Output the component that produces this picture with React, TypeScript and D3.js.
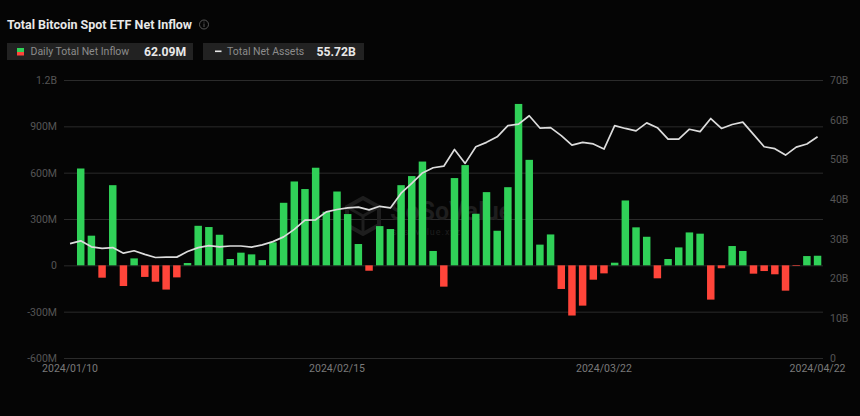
import React, { useEffect, useRef } from "react";
import { select, scaleBand, scaleLinear, axisLeft, axisRight, axisBottom, line } from "d3";

const dates = [
  "2024/01/10", "2024/01/11", "2024/01/12", "2024/01/16", "2024/01/17", "2024/01/18", "2024/01/19", "2024/01/22",
  "2024/01/23", "2024/01/24", "2024/01/25", "2024/01/26", "2024/01/29", "2024/01/30", "2024/01/31", "2024/02/01",
  "2024/02/02", "2024/02/05", "2024/02/06", "2024/02/07", "2024/02/08", "2024/02/09", "2024/02/12", "2024/02/13",
  "2024/02/14", "2024/02/15", "2024/02/16", "2024/02/20", "2024/02/21", "2024/02/22", "2024/02/23", "2024/02/26",
  "2024/02/27", "2024/02/28", "2024/02/29", "2024/03/01", "2024/03/04", "2024/03/05", "2024/03/06", "2024/03/07",
  "2024/03/08", "2024/03/11", "2024/03/12", "2024/03/13", "2024/03/14", "2024/03/15", "2024/03/18", "2024/03/19",
  "2024/03/20", "2024/03/21", "2024/03/22", "2024/03/25", "2024/03/26", "2024/03/27", "2024/03/28", "2024/04/01",
  "2024/04/02", "2024/04/03", "2024/04/04", "2024/04/05", "2024/04/08", "2024/04/09", "2024/04/10", "2024/04/11",
  "2024/04/12", "2024/04/15", "2024/04/16", "2024/04/17", "2024/04/18", "2024/04/19", "2024/04/22",
];

// millions of USD
const netInflow = [
  0, 627, 192, -80, 519, -134, 45, -75, -106, -157, -78, 15, 256, 248, 198, 41, 82, 71, 34, 149, 405, 543, 494,
  632, 347, 478, 332, 138, -35, 254, 235, 519, 578, 672, 93, -138, 565, 649, 334, 474, 224, 506, 1045, 683, 134,
  200, -153, -325, -261, -93, -52, 17, 420, 246, 185, -84, 41, 116, 213, 205, -222, -19, 125, 93, -54, -37, -58,
  -164, -4, 60, 62.09,
];

// billions of USD
const netAssets = [
  28.8, 29.5, 28.0, 27.6, 27.8, 26.4, 27.0, 26.1, 25.3, 25.4, 25.4, 26.8, 27.8, 28.3, 28.0, 28.2, 28.2, 27.9, 28.5,
  29.3, 30.5, 32.4, 34.7, 34.8, 36.8, 37.4, 37.8, 38.0, 37.3, 38.2, 37.8, 41.5, 44.0, 46.6, 47.9, 48.3, 52.5, 49.0,
  53.2, 54.3, 55.7, 58.5, 58.9, 61.0, 57.9, 58.0, 56.0, 53.6, 54.3, 53.9, 52.6, 58.5, 57.8, 57.2, 59.2, 58.0, 55.1,
  55.1, 57.6, 57.0, 60.3, 57.8, 58.8, 59.4, 56.3, 53.2, 52.7, 51.1, 53.1, 53.9, 55.72,
];

const leftTicks = [-600, -300, 0, 300, 600, 900, 1200];
const leftLabels = ["-600M", "-300M", "0", "300M", "600M", "900M", "1.2B"];
const rightTicks = [0, 10, 20, 30, 40, 50, 60, 70];
const rightLabels = ["0", "10B", "20B", "30B", "40B", "50B", "60B", "70B"];
const dateTicks = ["2024/01/10", "2024/02/15", "2024/03/22", "2024/04/22"];

const width = 860;
const height = 416;
const fontFamily = "Roboto, 'Noto Sans', sans-serif";
const green = "#30d158";
const red = "#ff453a";
const gridColor = "#2b2b2b";
const labelColor = "#555555";

export default function App() {
  const svgRef = useRef<SVGSVGElement | null>(null);

  useEffect(() => {
    document.body.style.margin = "0";
    document.body.style.background = "#050505";

    const svg = select(svgRef.current);
    svg.selectAll("*").remove();
    svg.attr("font-family", fontFamily);

    const xScale = scaleBand<string>().domain(dates).range([64.7, 822.9]).paddingInner(0.3).paddingOuter(0.15);
    const xCenter = (d: string) => (xScale(d) as number) + xScale.bandwidth() / 2;
    const yLeft = scaleLinear().domain([-600, 1200]).range([358, 80]);
    const yRight = scaleLinear().domain([0, 70]).range([358, 80]);

    // title and legend
    svg.append("text").attr("x", 7).attr("y", 29).attr("font-size", 12.5).attr("font-weight", 700)
      .attr("fill", "#e8e8e8").text("Total Bitcoin Spot ETF Net Inflow");
    svg.append("circle").attr("cx", 204).attr("cy", 24.5).attr("r", 4.5)
      .attr("fill", "none").attr("stroke", "#6a6a6a").attr("stroke-width", 0.8);
    svg.append("line").attr("x1", 204).attr("x2", 204).attr("y1", 23.5).attr("y2", 27)
      .attr("stroke", "#6a6a6a").attr("stroke-width", 0.8);
    svg.append("circle").attr("cx", 204).attr("cy", 22).attr("r", 0.5).attr("fill", "#6a6a6a");

    svg.append("rect").attr("x", 7).attr("y", 43).attr("width", 186).attr("height", 17).attr("fill", "#222222");
    svg.append("rect").attr("x", 17).attr("y", 48).attr("width", 7).attr("height", 4).attr("fill", green);
    svg.append("rect").attr("x", 17).attr("y", 52).attr("width", 7).attr("height", 3.5).attr("fill", red);
    svg.append("text").attr("x", 30.5).attr("y", 55).attr("font-size", 10.5).attr("fill", "#8c8c8c")
      .text("Daily Total Net Inflow");
    svg.append("text").attr("x", 144).attr("y", 56).attr("font-size", 12.2).attr("font-weight", 700)
      .attr("fill", "#e8e8e8").text("62.09M");

    svg.append("rect").attr("x", 203).attr("y", 43).attr("width", 161).attr("height", 17).attr("fill", "#222222");
    svg.append("rect").attr("x", 215).attr("y", 50.5).attr("width", 6.5).attr("height", 1.6).attr("fill", "#e8e8e8");
    svg.append("text").attr("x", 227).attr("y", 55).attr("font-size", 10.5).attr("fill", "#8c8c8c")
      .text("Total Net Assets");
    svg.append("text").attr("x", 316.5).attr("y", 56).attr("font-size", 12.2).attr("font-weight", 700)
      .attr("fill", "#e8e8e8").text("55.72B");

    // left axis carries the grid lines
    const leftAxis = axisLeft(yLeft)
      .tickValues(leftTicks)
      .tickSize(-759)
      .tickPadding(7)
      .tickFormat((_, i) => leftLabels[i]);
    const gLeft = svg.append("g").attr("transform", "translate(64,0)").call(leftAxis);
    gLeft.select(".domain").remove();
    gLeft.selectAll("line").attr("stroke", gridColor);
    gLeft.selectAll("text").attr("fill", labelColor).attr("font-size", 10.5).attr("font-family", fontFamily);

    const rightAxis = axisRight(yRight)
      .tickValues(rightTicks)
      .tickSize(0)
      .tickPadding(7)
      .tickFormat((_, i) => rightLabels[i]);
    const gRight = svg.append("g").attr("transform", "translate(823,0)").call(rightAxis);
    gRight.select(".domain").remove();
    gRight.selectAll("text").attr("fill", labelColor).attr("font-size", 10.5).attr("font-family", fontFamily);

    const bottomAxis = axisBottom(xScale).tickValues(dateTicks).tickSize(0).tickPadding(7);
    const gBottom = svg.append("g").attr("transform", "translate(0,358)").call(bottomAxis);
    gBottom.select(".domain").remove();
    gBottom.selectAll("text").attr("fill", "#7a7a7a").attr("font-size", 10.5).attr("font-family", fontFamily);

    // watermark
    const mark = svg.append("g").attr("fill", "#1e1e1e");
    mark.append("path").attr("d", "M363 198 L379 207 L379 225 L363 234 L347 225 L347 207 Z")
      .attr("fill", "none").attr("stroke", "#1e1e1e").attr("stroke-width", 4);
    mark.append("path").attr("d", "M347 207 L363 216 L379 207 M363 216 L363 234")
      .attr("fill", "none").attr("stroke", "#1e1e1e").attr("stroke-width", 3);
    mark.append("text").attr("x", 390).attr("y", 220).attr("font-size", 25).attr("font-weight", 700).text("SoSoValue");
    mark.append("text").attr("x", 392).attr("y", 235).attr("font-size", 9).attr("letter-spacing", 1).text("sosovalue.xyz");

    // bars
    svg.append("g")
      .selectAll("rect")
      .data(netInflow)
      .join("rect")
      .attr("x", (_, i) => xScale(dates[i]) as number)
      .attr("width", xScale.bandwidth())
      .attr("y", (d) => yLeft(Math.max(d, 0)))
      .attr("height", (d) => Math.abs(yLeft(d) - yLeft(0)))
      .attr("fill", (d) => (d >= 0 ? green : red));

    // assets line
    const getLine = line<number>()
      .x((_, i) => xCenter(dates[i]))
      .y((d) => yRight(d));
    svg.append("path")
      .attr("d", getLine(netAssets))
      .attr("fill", "none")
      .attr("stroke", "#dcdcdc")
      .attr("stroke-width", 1.7)
      .attr("stroke-linejoin", "round");
  }, []);

  return <svg ref={svgRef} width={width} height={height} style={{ display: "block", background: "#050505" }} />;
}
